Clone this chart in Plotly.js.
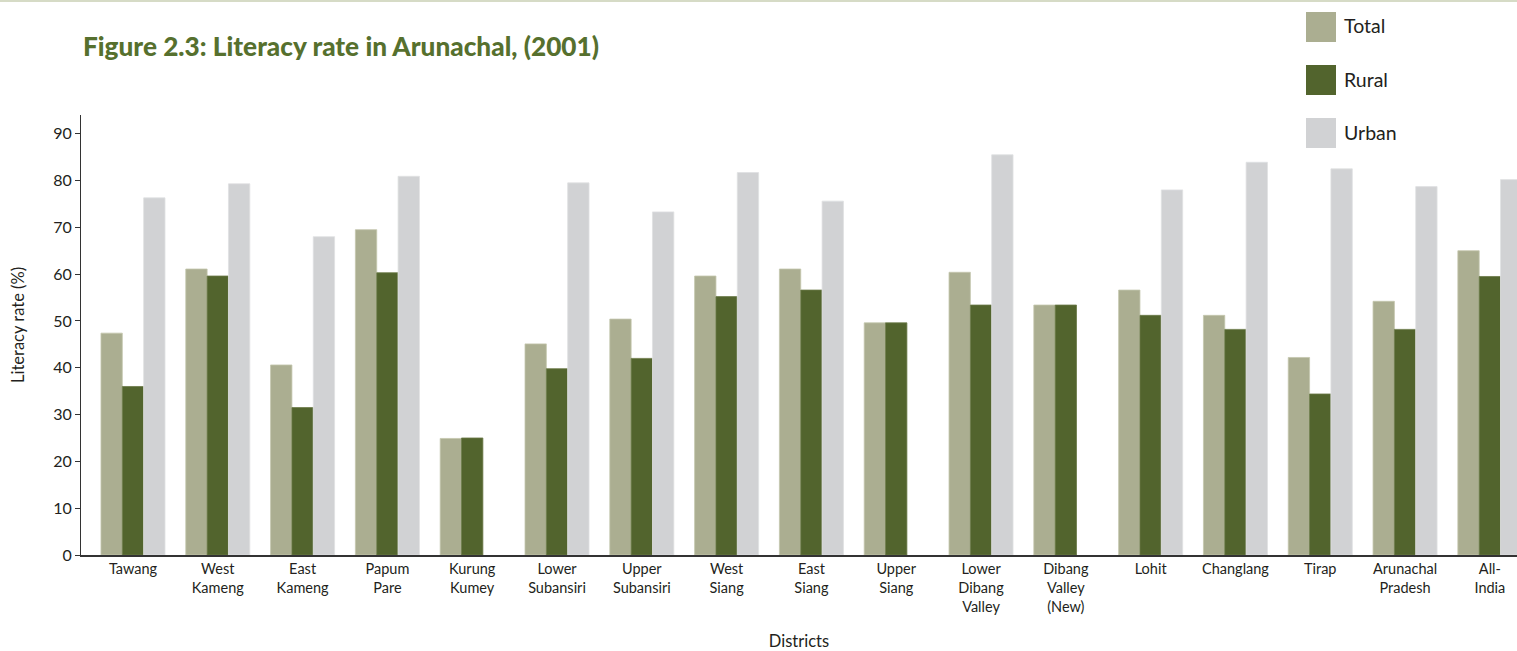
<!DOCTYPE html>
<html>
<head>
<meta charset="utf-8">
<script src="https://cdn.plot.ly/plotly-3.0.1.min.js"></script>
<style>
  html, body { margin: 0; padding: 0; background: #ffffff; overflow: hidden; }
  #chart { width: 1517px; height: 651px; }
</style>
</head>
<body>
<div id="chart"></div>
<script>
// ---- data ----
const categories = ["Tawang","West Kameng","East Kameng","Papum Pare","Kurung Kumey","Lower Subansiri","Upper Subansiri","West Siang","East Siang","Upper Siang","Lower Dibang Valley","Dibang Valley (New)","Lohit","Changlang","Tirap","Arunachal Pradesh","All-India"];
const tickLabels = ["Tawang","West<br>Kameng","East<br>Kameng","Papum<br>Pare","Kurung<br>Kumey","Lower<br>Subansiri","Upper<br>Subansiri","West<br>Siang","East<br>Siang","Upper<br>Siang","Lower<br>Dibang<br>Valley","Dibang<br>Valley<br>(New)","Lohit","Changlang","Tirap","Arunachal<br>Pradesh","All-<br>India"];
const totalRate = [47.4, 61.1, 40.6, 69.5, 24.9, 45.1, 50.4, 59.6, 61.1, 49.6, 60.4, 53.4, 56.6, 51.2, 42.2, 54.2, 65.0];
const ruralRate = [36.0, 59.6, 31.5, 60.3, 25.0, 39.8, 42.0, 55.2, 56.6, 49.6, 53.4, 53.4, 51.2, 48.2, 34.4, 48.2, 59.5];
const urbanRate = [76.3, 79.3, 68.0, 80.9, null, 79.5, 73.3, 81.7, 75.6, null, 85.5, null, 78.0, 83.9, 82.5, 78.7, 80.2];
const seriesNames = ["Total", "Rural", "Urban"];
const yTicks = [0, 10, 20, 30, 40, 50, 60, 70, 80, 90];

// ---- style ----
const colors = ["#abae91", "#52642d", "#d1d2d4"];
const edgeColors = ["#c4c7ad", "#6b7a48", "#e0e1e2"];
const textColor = "#231f20";
const font = "Lato, 'Open Sans', sans-serif";

const seriesData = [totalRate, ruralRate, urbanRate];
const traces = seriesData.map((vals, i) => ({
  type: "bar",
  name: seriesNames[i],
  x: categories,
  y: vals,
  marker: { color: colors[i], line: { color: edgeColors[i], width: 0.8 } },
  hoverinfo: "x+y+name",
  showlegend: false
}));

// plot box in pixels
const W = 1517, H = 651;
const L = 81, R = 0, T = 115, B = 96;
const pw = W - L - R, ph = H - T - B;
const px = x => (x - L) / pw;
const py = y => (H - B - y) / ph;

const legendItems = [
  { name: seriesNames[0], color: colors[0], top: 12 },
  { name: seriesNames[1], color: colors[1], top: 65 },
  { name: seriesNames[2], color: colors[2], top: 118 }
];

const shapes = [
  { type: "line", xref: "paper", yref: "paper", x0: px(0), x1: 1, y0: py(1), y1: py(1),
    line: { color: "#d6dbc6", width: 2 } }
];
const annotations = [
  { text: "Literacy rate (%)", xref: "paper", yref: "paper", x: px(18), y: py(325),
    xanchor: "center", yanchor: "middle", textangle: -90, showarrow: false,
    font: { family: font, size: 16.5, color: textColor } }
];
legendItems.forEach(it => {
  shapes.push({ type: "rect", xref: "paper", yref: "paper", layer: "above",
    x0: px(1306), x1: px(1336), y0: py(it.top), y1: py(it.top + 30),
    fillcolor: it.color, line: { width: 0 } });
  annotations.push({ text: it.name, xref: "paper", yref: "paper",
    x: px(1342), y: py(it.top + 14), xanchor: "left", yanchor: "middle",
    showarrow: false, font: { family: font, size: 19.5, color: textColor } });
});

const layout = {
  width: W, height: H,
  margin: { l: L, r: R, t: T, b: B, pad: 0 },
  paper_bgcolor: "#ffffff",
  plot_bgcolor: "#ffffff",
  font: { family: font, color: textColor },
  title: {
    text: "Figure 2.3: Literacy rate in Arunachal, (2001)",
    xref: "container", yref: "container",
    x: 83 / W, xanchor: "left",
    y: 1 - 47 / H, yanchor: "middle",
    font: { family: "Lato, 'Open Sans', sans-serif", size: 26.2, weight: 900, color: "#56702e" }
  },
  barmode: "group",
  bargap: 0.245,
  bargroupgap: 0,
  showlegend: false,
  xaxis: {
    type: "category",
    range: [-0.613, 16.32],
    tickmode: "array",
    tickvals: categories,
    ticktext: tickLabels,
    tickfont: { family: font, size: 14.5, color: textColor },
    ticks: "",
    showline: true, linecolor: "#333333", linewidth: 1.5,
    showgrid: false, zeroline: false,
    title: { text: "Districts", standoff: 26, font: { family: font, size: 16.5, color: textColor } },
    fixedrange: true
  },
  yaxis: {
    range: [0, 94],
    tickmode: "array",
    tickvals: yTicks,
    ticks: "outside", ticklen: 5, tickcolor: "#333333", tickwidth: 1,
    tickfont: { family: font, size: 16, color: textColor },
    showline: true, linecolor: "#333333", linewidth: 1,
    showgrid: false, zeroline: false,
    fixedrange: true
  },
  shapes: shapes,
  annotations: annotations
};

Plotly.newPlot("chart", traces, layout, { displayModeBar: false, staticPlot: true });
</script>
</body>
</html>
